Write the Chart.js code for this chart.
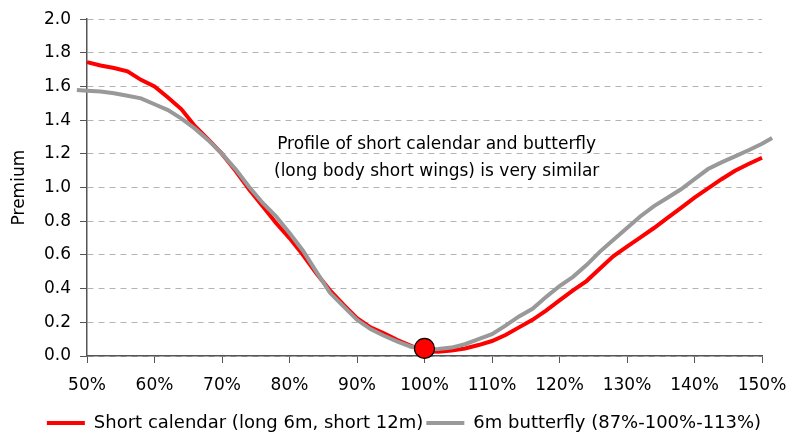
<!DOCTYPE html>
<html>
<head>
<meta charset="utf-8">
<script src="https://cdn.jsdelivr.net/npm/chart.js@4/dist/chart.umd.min.js"></script>
<style>
  html, body { margin: 0; padding: 0; background: #fff; }
  #wrap { width: 789px; height: 436px; }
</style>
</head>
<body>
<div id="wrap"><canvas id="chart" width="789" height="436"></canvas></div>
<script>
// ---------------------------------------------------------------
// Data (strike in %, premium)
// ---------------------------------------------------------------
var CAL_STRIKES = [50, 52, 54, 56, 58, 60, 62, 64, 66, 68, 70, 72, 74, 76, 78, 80, 82, 84, 86, 88,
  90, 92, 94, 96, 98, 100, 102, 104, 106, 108, 110, 112, 114, 116, 118, 120, 122, 124, 126, 128,
  130, 132, 134, 136, 138, 140, 142, 144, 146, 148, 150];
var CAL_PREMIUM = [1.745, 1.725, 1.71, 1.69, 1.64, 1.60, 1.535, 1.465, 1.365, 1.285, 1.20, 1.10, 0.99, 0.89, 0.79, 0.70, 0.60, 0.49, 0.39, 0.305,
  0.225, 0.17, 0.135, 0.095, 0.06, 0.03, 0.025, 0.032, 0.045, 0.065, 0.089, 0.125, 0.17, 0.215, 0.27, 0.33, 0.39, 0.445, 0.52, 0.593,
  0.65, 0.705, 0.76, 0.82, 0.88, 0.94, 0.995, 1.05, 1.10, 1.14, 1.177];

var FLY_STRIKES = [48.5, 50, 52, 54, 56, 58, 60, 62, 64, 66, 68, 70, 72, 74, 76, 78, 80, 82, 84, 86, 88,
  90, 92, 94, 96, 98, 100, 102, 104, 106, 108, 110, 112, 114, 116, 118, 120, 122, 124, 126, 128,
  130, 132, 134, 136, 138, 140, 142, 144, 146, 148, 150, 151.5];
var FLY_PREMIUM = [1.58, 1.575, 1.57, 1.56, 1.545, 1.53, 1.495, 1.46, 1.41, 1.35, 1.28, 1.20, 1.11, 1.005, 0.91, 0.83, 0.73, 0.625, 0.5, 0.375, 0.295,
  0.215, 0.16, 0.12, 0.085, 0.055, 0.04, 0.042, 0.05, 0.07, 0.10, 0.13, 0.18, 0.235, 0.28, 0.35, 0.415, 0.47, 0.54, 0.62, 0.69,
  0.76, 0.83, 0.89, 0.94, 0.99, 1.05, 1.11, 1.15, 1.185, 1.222, 1.26, 1.295];

var SPOT_POINT = [{ x: 100, y: 0.045 }];

var SERIES_NAMES = ['Short calendar (long 6m, short 12m)', '6m butterfly (87%-100%-113%)'];
var NOTE_LINES = ['Profile of short calendar and butterfly', '(long body short wings) is very similar'];

var FONT = '"DejaVu Sans", "Liberation Sans", Arial, sans-serif';

function toPoints(xs, ys) {
  return xs.map(function (x, i) { return { x: x, y: ys[i] }; });
}

// note text in the middle of the plot
var notePlugin = {
  id: 'note',
  afterLayout: function (chart) {
    // the legend sits a little right of centre and lower than the default
    var lg = chart.legend;
    if (lg) {
      lg.left += 23; lg.right += 23;
      lg.top += 8; lg.bottom += 8;
    }
  },
  afterDraw: function (chart) {
    var ctx = chart.ctx;
    var xs = chart.scales.x, ys = chart.scales.y;
    ctx.save();
    ctx.font = '17px ' + FONT;
    ctx.fillStyle = '#000';
    ctx.textAlign = 'center';
    ctx.textBaseline = 'middle';
    var cx = xs.getPixelForValue(101.8);
    ctx.fillText(NOTE_LINES[0], cx, ys.getPixelForValue(1.258));
    ctx.fillText(NOTE_LINES[1], cx, ys.getPixelForValue(1.095));
    ctx.restore();
  }
};

Chart.defaults.font.family = FONT;
Chart.defaults.font.size = 17;
Chart.defaults.color = '#000';

new Chart(document.getElementById('chart'), {
  type: 'line',
  data: {
    datasets: [
      {
        label: SERIES_NAMES[0],
        data: toPoints(CAL_STRIKES, CAL_PREMIUM),
        borderColor: '#ff0000',
        backgroundColor: '#ff0000',
        borderWidth: 4,
        pointRadius: 0,
        tension: 0,
        order: 2
      },
      {
        label: SERIES_NAMES[1],
        data: toPoints(FLY_STRIKES, FLY_PREMIUM),
        borderColor: '#999999',
        backgroundColor: '#999999',
        borderWidth: 4,
        pointRadius: 0,
        tension: 0,
        clip: false,
        order: 1
      },
      {
        label: 'spot',
        data: SPOT_POINT,
        showLine: false,
        pointRadius: 10,
        pointBackgroundColor: '#ff0000',
        pointBorderColor: '#000',
        pointBorderWidth: 1.2,
        clip: false,
        order: 0
      }
    ]
  },
  options: {
    responsive: false,
    animation: false,
    layout: { padding: { top: 18, right: 27, bottom: 2, left: 0 } },
    plugins: {
      tooltip: { enabled: false },
      legend: {
        position: 'bottom',
        labels: {
          usePointStyle: true,
          pointStyle: 'line',
          pointStyleWidth: 38,
          boxHeight: 17,
          padding: 3,
          font: { size: 18 },
          filter: function (item) { return item.datasetIndex < 2; },
          sort: function (a, b) { return a.datasetIndex - b.datasetIndex; }
        }
      }
    },
    scales: {
      x: {
        type: 'linear',
        // range fixed here (not via min/max) so the butterfly's end points past 50% / 150% still get drawn
        afterDataLimits: function (scale) { scale.min = 50; scale.max = 150; },
        ticks: {
          stepSize: 10,
          padding: 12,
          callback: function (v) { return v + '%'; }
        },
        grid: { drawOnChartArea: false, tickLength: 7, tickColor: '#555', tickWidth: 1 },
        border: { color: '#555', width: 1.5 },
        afterFit: function (scale) {
          scale.height = 47;
          scale.paddingLeft = 0;
          scale.paddingRight = 0;
        }
      },
      y: {
        min: 0,
        max: 2,
        ticks: {
          stepSize: 0.2,
          padding: 9,
          callback: function (v) { return v.toFixed(1); }
        },
        grid: { color: '#b4b4b4', lineWidth: 1, tickLength: 7, tickColor: '#555', tickWidth: 1 },
        border: { color: '#555', width: 1.5, dash: [6, 5] },
        title: { display: true, text: 'Premium', font: { size: 17 }, padding: { top: 9, bottom: 0 } },
        afterFit: function (scale) { scale.width = 87; }
      }
    }
  },
  plugins: [notePlugin]
});
</script>
</body>
</html>
